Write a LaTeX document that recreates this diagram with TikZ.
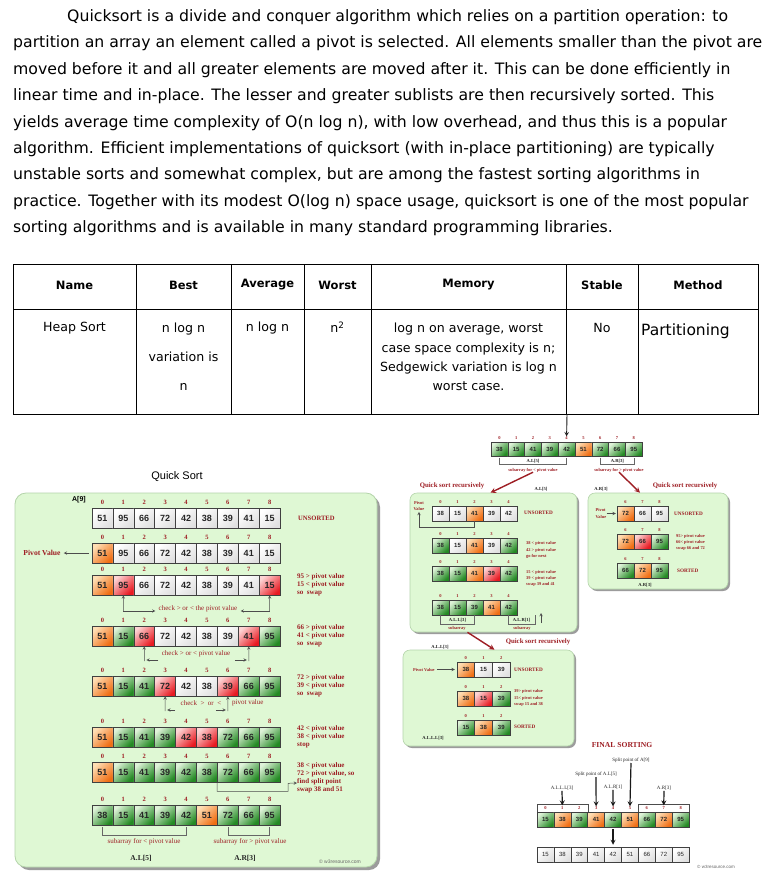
\documentclass[tikz,border=0pt]{standalone}
\usepackage{fontspec}
\setmainfont{Liberation Sans}
\newfontfamily\qserif{Liberation Serif}
\newfontfamily\qcomic{DejaVu Sans}
\usetikzlibrary{shapes,arrows,positioning,shadows}

\definecolor{qgreen}{RGB}{36,138,36}
\definecolor{qgreenlt}{RGB}{222,242,216}
\definecolor{qred}{RGB}{232,26,34}
\definecolor{qredlt}{RGB}{253,212,212}
\definecolor{qorange}{RGB}{240,110,20}
\definecolor{qorangelt}{RGB}{254,222,180}
\definecolor{qwhitedk}{RGB}{224,224,224}
\definecolor{qpanel}{RGB}{223,248,212}
\definecolor{qpanelbd}{RGB}{180,212,170}
\definecolor{qlabel}{RGB}{158,30,36}

\newcommand{\qsz}[2]{\fontsize{#1}{#2}\selectfont}

% one row of the array: name, left, top, cell width, cell height, size (L/S), first index, value/colour list
\newcommand{\qrow}[8]{%
  \foreach \v/\c [count=\i from 0] in {#8} {
    \pgfmathtruncatemacro{\k}{\i+#7}
    \node[cell#6, \c, minimum width=#4, minimum height=#5] (#1-\i) at ({#2+(\i+0.5)*#4}, {#3+0.5*#5}) {\v};
    \node[idx#6, above=of #1-\i] (#1-i\i) {\k};
  }%
}

\begin{document}
\begin{tikzpicture}[x=1pt, y=-1pt,
    para/.style={inner sep=0pt, anchor=base west, font=\qcomic\qsz{15.7}{15.7}},
    th/.style={inner sep=0pt, font=\qcomic\qsz{11.5}{11.5}\bfseries},
    td/.style={inner sep=0pt, align=center, font=\qcomic\qsz{12.6}{12.6}},
    cellL/.style={draw=black!75, line width=0.6pt, inner sep=0pt, text=black!85, font=\qsz{9}{9}\bfseries,
        drop shadow={shadow xshift=0.9pt, shadow yshift=-0.9pt, opacity=0.45}},
    cellS/.style={draw=black!75, line width=0.45pt, inner sep=0pt, text=black!85, font=\qsz{6}{6}\bfseries,
        drop shadow={shadow xshift=0.6pt, shadow yshift=-0.6pt, opacity=0.45}},
    idxL/.style={inner sep=0pt, node distance=2.6pt, text=qlabel, font=\qserif\qsz{6.5}{6.5}\bfseries},
    idxS/.style={inner sep=0pt, node distance=2pt, text=qlabel, font=\qserif\qsz{4.5}{4.5}\bfseries},
    gc/.style={top color=qgreenlt, bottom color=qgreen, shading angle=45},
    rc/.style={top color=qredlt, bottom color=qred, shading angle=45},
    oc/.style={top color=qorangelt, bottom color=qorange, shading angle=45},
    wc/.style={top color=white, bottom color=qwhitedk, shading angle=45},
    panel/.style={draw=qpanelbd, line width=0.8pt, fill=qpanel, rounded corners=11pt,
        drop shadow={shadow xshift=3pt, shadow yshift=-3pt, fill=black!55, opacity=0.7}},
    panelS/.style={draw=qpanelbd, line width=0.6pt, fill=qpanel, rounded corners=7pt,
        drop shadow={shadow xshift=2pt, shadow yshift=-2pt, fill=black!55, opacity=0.7}},
    noteL/.style={inner sep=0pt, anchor=west, align=left, text=qlabel, font=\qserif\qsz{7}{8}\bfseries},
    noteS/.style={inner sep=0pt, anchor=west, align=left, text=qlabel, font=\qserif\qsz{4.4}{6.4}\bfseries},
    capS/.style={inner sep=0pt, anchor=west, text=qlabel, font=\qserif\qsz{5.2}{5.2}\bfseries},
    chk/.style={inner sep=0pt, text=qlabel, font=\qserif\qsz{7}{7}},
    subL/.style={inner sep=0pt, text=qlabel, font=\qserif\qsz{7}{7}},
    subS/.style={inner sep=0pt, text=qlabel, font=\qserif\qsz{4.4}{4.4}\bfseries},
    tagS/.style={inner sep=0pt, text=black!85, font=\qserif\qsz{4.6}{4.6}\bfseries},
    alab/.style={inner sep=0pt, text=black!85, font=\qserif\qsz{7.5}{7.5}\bfseries},
    recur/.style={inner sep=0pt, text=qlabel, font=\qserif\qsz{6.8}{6.8}\bfseries},
    finlab/.style={inner sep=0.5pt, text=black!85, font=\qserif\qsz{5}{5}},
    credit/.style={inner sep=0pt, text=black!60, font=\qsz{5}{5}},
    arr/.style={->, >=stealth, draw=black!70, line width=0.5pt},
    redarr/.style={->, >=stealth, draw=qlabel, line width=1.4pt},
    bigarr/.style={->, >=stealth, draw=black!90, line width=1.2pt},
    brk/.style={draw=black!60, line width=0.5pt}
]
\useasboundingbox (0,0) rectangle (768,887);
\fill[white] (0,0) rectangle (768,887);

% Text above
\node[para] (l1) at (67,21.5) {Quicksort is a divide and conquer algorithm which relies on a partition operation: to};
\node[para] (l2) at (13,47.9) {partition an array an element called a pivot is selected. All elements smaller than the pivot are};
\node[para] (l3) at (13,74.3) {moved before it and all greater elements are moved after it. This can be done efficiently in};
\node[para] (l4) at (13,100.7) {linear time and in-place. The lesser and greater sublists are then recursively sorted. This};
\node[para] (l5) at (13,127.1) {yields average time complexity of O(n log n), with low overhead, and thus this is a popular};
\node[para] (l6) at (13,153.5) {algorithm. Efficient implementations of quicksort (with in-place partitioning) are typically};
\node[para] (l7) at (13,179.9) {unstable sorts and somewhat complex, but are among the fastest sorting algorithms in};
\node[para] (l8) at (13,206.3) {practice. Together with its modest O(log n) space usage, quicksort is one of the most popular};
\node[para] (l9) at (13,232.7) {sorting algorithms and is available in many standard programming libraries.};

% Table
\draw[line width=0.9pt] (13,264) rectangle (758,414);
\draw[line width=0.9pt] (13,309) -- (758,309);
\foreach \x in {136,231,304,371,566,638}
  \draw[line width=0.9pt] (\x,264) -- (\x,414);
\node[th] (hname) at (74.5,285) {Name};
\node[th] (hbest) at (183.5,285) {Best};
\node[th] (havg) at (267.5,285) {Average};
\node[th] (hworst) at (337.5,285) {Worst};
\node[th] (hmem) at (468.5,285) {Memory};
\node[th] (hstab) at (602,285) {Stable};
\node[th] (hmeth) at (698,285) {Method};
\node[td] (dname) at (74.5,328) {Heap Sort};
\node[td, font=\qcomic\qsz{12.6}{29}] (dbest) at (183.5,357) {n log n\\variation is\\n};
\node[td] (davg) at (267.5,328) {n log n};
\node[td] (dworst) at (337.5,327) {n\textsuperscript{2}};
\node[td, font=\qcomic\qsz{12.6}{19.3}] (dmem) at (468.5,357) {log n on average, worst\\case space complexity is n;\\Sedgewick variation is log n\\worst case.};
\node[td] (dstab) at (602,328) {No};
\node[td, anchor=west, font=\qcomic\qsz{15.5}{15.5}] (dmeth) at (641,331) {Partitioning};

% Quick Sort, first pass
\node[inner sep=0pt, font=\qsz{11}{11}] (title) at (177,477) {Quick Sort};
\node[panel, minimum width=362, minimum height=374] (pA) at (196,680) {};
\node[inner sep=0pt, font=\qsz{7}{7}\bfseries] (a9) at (79,500) {A[9]};

\qrow{r1}{92}{508}{20.9}{20}{L}{0}{51/wc,95/wc,66/wc,72/wc,42/wc,38/wc,39/wc,41/wc,15/wc}
\qrow{r2}{92}{543}{20.9}{20}{L}{0}{51/oc,95/wc,66/wc,72/wc,42/wc,38/wc,39/wc,41/wc,15/wc}
\qrow{r3}{92}{575}{20.9}{20}{L}{0}{51/oc,95/rc,66/wc,72/wc,42/wc,38/wc,39/wc,41/wc,15/rc}
\qrow{r4}{92}{626}{20.9}{20}{L}{0}{51/oc,15/gc,66/rc,72/wc,42/wc,38/wc,39/wc,41/rc,95/gc}
\qrow{r5}{92}{676}{20.9}{20}{L}{0}{51/oc,15/gc,41/gc,72/rc,42/wc,38/wc,39/rc,66/gc,95/gc}
\qrow{r6}{92}{727}{20.9}{20}{L}{0}{51/oc,15/gc,41/gc,39/gc,42/rc,38/rc,72/gc,66/gc,95/gc}
\qrow{r7}{92}{762}{20.9}{20}{L}{0}{51/oc,15/gc,41/gc,39/gc,42/gc,38/gc,72/gc,66/gc,95/gc}
\qrow{r8}{92}{805}{20.9}{20}{L}{0}{38/gc,15/gc,41/gc,39/gc,42/gc,51/oc,72/gc,66/gc,95/gc}

\node[noteL, font=\qserif\qsz{6.6}{6.6}\bfseries] (uns1) at (298,518) {UNSORTED};
\node[noteL, anchor=center, font=\qserif\qsz{7.6}{7.6}\bfseries] (pv1) at (42,553) {Pivot Value};
\draw[arr, shorten >=3pt] ([xshift=-3pt]r2-0.west) -- (pv1.east);

\node[noteL] (n3) at (297,585) {95 > pivot value\\15 < pivot value\\so~ swap};
\node[noteL] (n4) at (297,636) {66 > pivot value\\41 < pivot value\\so~ swap};
\node[noteL] (n5) at (297,686) {72 > pivot value\\39 < pivot value\\so~ swap};
\node[noteL] (n6) at (297,737) {42 < pivot value\\38 < pivot value\\stop};
\node[noteL] (n7) at (297,778) {38 < pivot value\\72 > pivot value, so\\find split point\\swap 38 and 51};

% check > or < the pivot value
\node[chk] (c3) at (198,609) {check > or < the pivot value};
\coordinate (c3l) at (123.4,611);
\coordinate (c3r) at (269.6,611);
\draw[arr] (c3l) -- (r3-1.south);
\draw[arr] (c3r) -- (r3-8.south);
\draw[arr, shorten >=3pt] (c3l) -- (c3l -| c3.west);
\draw[arr, shorten >=3pt] (c3r) -- (c3r -| c3.east);

\node[chk] (c4) at (196,654) {check > or < pivot value};
\coordinate (c4l) at (144.3,661);
\coordinate (c4r) at (248.8,661);
\draw[arr] (c4l) -- (r4-2.south);
\draw[arr] (c4r) -- (r4-7.south);
\draw[arr] ([xshift=14pt, yshift=1pt]c4l) -- ([xshift=2pt, yshift=1pt]c4l);
\draw[arr] ([xshift=-14pt, yshift=1pt]c4r) -- ([xshift=-2pt, yshift=1pt]c4r);

\node[chk] (c5a) at (201,703) {check ~>~ or ~<};
\node[chk, anchor=west] (c5b) at (232,703) {pivot value};
\coordinate (c5l) at (165.2,711);
\coordinate (c5r) at (227.9,711);
\draw[arr] (c5l) -- (r5-3.south);
\draw[arr] (c5r) -- (r5-6.south);
\draw[arr] ([xshift=10pt, yshift=1pt]c5l) -- ([xshift=2pt, yshift=1pt]c5l);
\draw[arr] ([xshift=-12pt, yshift=1pt]c5r) -- ([xshift=-2pt, yshift=1pt]c5r);

% split point
\coordinate (spl) at (297,783);
\draw[arr] (r7-6.south west) -- ++(0,9) -| ++(71,-8) -- (spl);

% subarrays
\draw[brk] ([yshift=-2pt]r8-0.south) -- ++(0,8) -| ([yshift=-2pt]r8-4.south);
\draw[brk] ([yshift=-2pt]r8-6.south) -- ++(0,8) -| ([yshift=-2pt]r8-8.south);
\node[subL] (s1) at (144,842) {subarray for < pivot value};
\node[subL] (s2) at (250,842) {subarray for > pivot value};
\node[alab] (al5) at (141,858) {A.L[5]};
\node[alab] (ar3) at (245,858) {A.R[3]};
\node[credit] (cr1) at (340,862) {\textcopyright\ w3resource.com};

% Split array
\coordinate (tb) at (567,414);
\qrow{m}{491}{442}{16.8}{14}{S}{0}{38/gc,15/gc,41/gc,39/gc,42/gc,51/oc,72/gc,66/gc,95/gc}
\draw[bigarr, line width=0.9pt] (tb) -- (m-i4.north);
\draw[brk] ([yshift=-1.5pt]m-0.south) -- ++(0,7) -| ([yshift=-1.5pt]m-4.south);
\draw[brk] ([yshift=-1.5pt]m-6.south) -- ++(0,7) -| ([yshift=-1.5pt]m-8.south);
\node[tagS] (mL) at (533,461.5) {A.L[5]};
\node[tagS] (mR) at (617.4,461.5) {A.R[3]};
\node[subS] (ms1) at (533,470) {subarray for < pivot value};
\node[subS] (ms2) at (619,470) {subarray for > pivot value};

% A.L[5] recursively
\node[panelS, minimum width=167, minimum height=139] (pL) at (493.5,562.5) {};
\node[recur] (qrL) at (452,486) {Quick sort recursively};
\node[tagS] (tL) at (541,489) {A.L[5]};
\draw[redarr] (ms1.south) -- ([xshift=-3pt]pL.north);

\qrow{la}{432}{506}{17}{15}{S}{0}{38/wc,15/wc,41/oc,39/wc,42/wc}
\qrow{lb}{432}{538}{17}{15}{S}{0}{38/gc,15/wc,41/oc,39/wc,42/gc}
\qrow{lc}{432}{566}{17}{15}{S}{0}{38/gc,15/gc,41/oc,39/rc,42/gc}
\qrow{ld}{432}{600}{17}{15}{S}{0}{38/gc,15/gc,39/gc,41/oc,42/gc}
\node[capS] (lu) at (524,513) {UNSORTED};
\node[subS, align=center, font=\qserif\qsz{4.4}{6.4}\bfseries] (lpv) at (419,506) {Pivot\\Value};
\draw[arr, shorten >=1pt] (la-2.south) -- ++(0,6) -| (lpv.south);
\node[noteS] (lnb) at (526,550) {38 < pivot value\\42 > pivot value\\go for next};
\node[noteS] (lnc) at (526,578.5) {15 < pivot value\\39 < pivot value\\swap 39 and 41};
\coordinate (ldr) at (535,615);
\draw[brk] (ld-0.south) -- ++(0,9.5) -| (ld-2.south);
\draw[brk] (ld-4.south) -- ++(0,9.5) -| (ldr);
\node[tagS] (tLL) at (457.5,620.5) {A.L.L[3]};
\node[tagS] (tLR) at (521.5,620.5) {A.L.R[1]};
\node[subS] (lsa) at (457,628.5) {subarray};
\node[subS] (lsb) at (522,628.5) {subarray};
\coordinate (upa) at (541,623);
\coordinate (upb) at (541,613);
\draw[arr] (upa) -- (upb);

% A.L.L[3] recursively
\node[panelS, minimum width=171, minimum height=96] (pLL) at (488.5,698) {};
\draw[redarr] ([xshift=-26pt]pL.south) -- ([xshift=6pt]pLL.north);
\node[tagS] (tLL2) at (440,647) {A.L.L[3]};
\node[recur] (qrLL) at (538,642) {Quick sort recursively};
\qrow{xa}{457}{662}{17.7}{15}{S}{0}{38/oc,15/wc,39/wc}
\qrow{xb}{457}{691}{17.7}{15}{S}{0}{38/oc,15/rc,39/gc}
\qrow{xc}{457}{720}{17.7}{15}{S}{0}{15/gc,38/oc,39/gc}
\node[noteS] (xpv) at (413,669.5) {Pivot Value};
\draw[arr, shorten <=2pt, shorten >=2pt] (xpv.east) -- (xa-0.west);
\node[capS] (xu) at (514,670) {UNSORTED};
\node[noteS] (xnb) at (514,698) {39> pivot value\\15< pivot value\\swap 15 and 38};
\node[capS] (xs) at (514,727) {SORTED};
\node[tagS] (tLLL) at (433,738) {A.L.L.L[3]};

% A.R[3] recursively
\node[panelS, minimum width=140, minimum height=96] (pR) at (658,541) {};
\draw[redarr] (ms2.south) -- ([xshift=-18pt]pR.north);
\node[tagS] (tR) at (601,489) {A.R[3]};
\node[recur] (qrR) at (685,486) {Quick sort recursively};
\qrow{ya}{617}{506}{17}{15}{S}{6}{72/oc,66/wc,95/wc}
\qrow{yb}{617}{534}{17}{15}{S}{6}{72/oc,66/rc,95/gc}
\qrow{yc}{617}{563}{17}{15}{S}{6}{66/gc,72/oc,95/gc}
\node[subS, align=left, font=\qserif\qsz{4.4}{6.4}\bfseries] (ypv) at (601,513.5) {Pivot\\Value};
\draw[arr, shorten >=1pt] (ypv.east) -- (ya-0.west);
\node[capS] (yu) at (674,514) {UNSORTED};
\node[noteS] (ynb) at (676,542.5) {95> pivot value\\66< pivot value\\swap 66 and 72};
\node[capS] (ys) at (677,571) {SORTED};
\node[tagS] (tR2) at (645,585) {A.R[3]};

% Final sorting
\node[recur, font=\qserif\qsz{7.6}{7.6}\bfseries] (fs) at (622,745) {FINAL SORTING};
\qrow{f}{537}{812}{16.9}{15}{S}{0}{15/gc,38/oc,39/gc,41/oc,42/gc,51/oc,66/gc,72/oc,95/gc}
\draw[brk, draw=black!70] (f-0.north west) -- ++(0,-8) -| (f-2.north east);
\draw[brk, draw=black!70] (f-6.north west) -- ++(0,-8) -| (f-8.north east);
\node[finlab] (fl1) at (562,788) {A.L.L.L[3]};
\node[finlab] (fs2) at (596,774) {Split point of A.L[5]};
\node[finlab] (fl3) at (613,787) {A.L.R[1]};
\node[finlab] (fs1) at (631,760) {Split point of A[9]};
\node[finlab] (fl4) at (664,788) {A.R[3]};
\draw[bigarr] (fl1.south) -- ([yshift=1pt]f-i1.north);
\draw[bigarr] (fs2.south) -- (f-i3.north);
\draw[bigarr] (fl3.south) -- (f-i4.north);
\draw[bigarr] (fs1.south) -- (f-i5.north);
\draw[bigarr] (fl4.south) -- ([yshift=1pt]f-i7.north);
\foreach \v [count=\i from 0] in {15,38,39,41,42,51,66,72,95}
  \node[cellS, wc, font=\qsz{6}{6}, minimum width=16.9, minimum height=15] (g-\i) at ({537+(\i+0.5)*16.9}, 854.5) {\v};
\draw[bigarr, shorten <=2pt, shorten >=2pt] (f-4.south) -- (g-4.north);
\node[credit, font=\qsz{4.5}{4.5}] (cr2) at (716,867) {\textcopyright\ w3resource.com};

\end{tikzpicture}
\end{document}
